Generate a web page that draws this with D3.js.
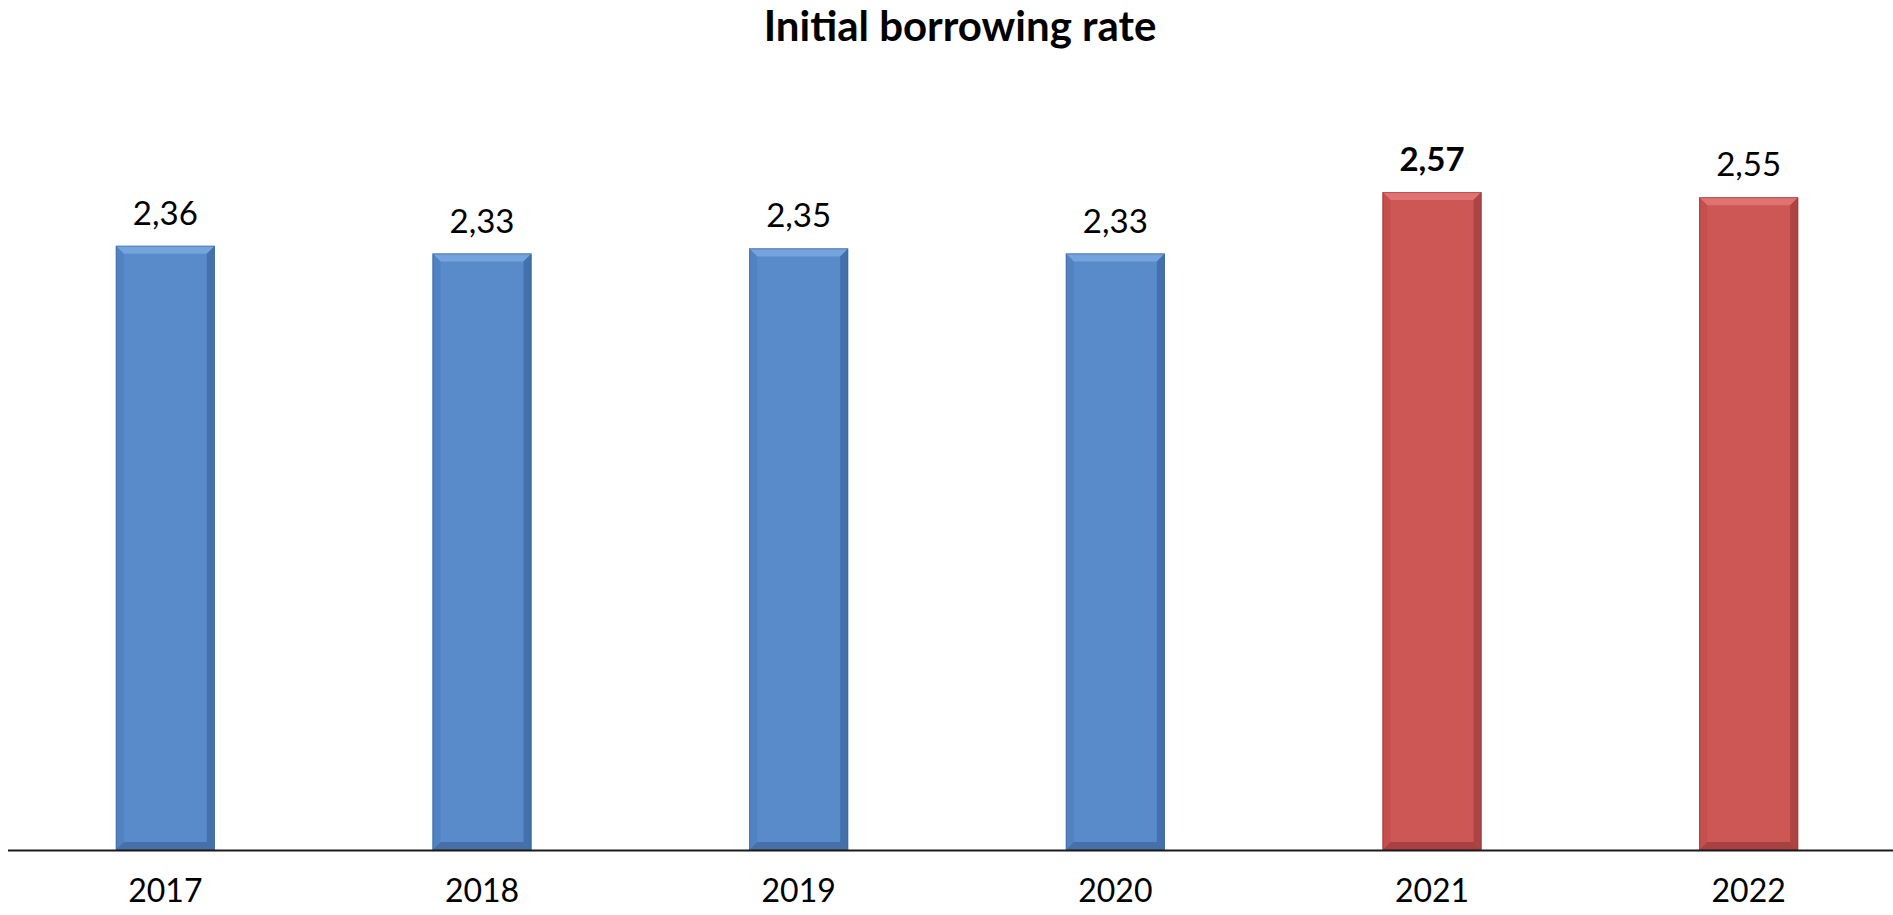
<!DOCTYPE html>
<html><head><meta charset="utf-8">
<script src="https://cdn.jsdelivr.net/npm/d3@7"></script>
<style>body{margin:0;background:#fff;overflow:hidden}svg{display:block}</style>
</head><body>
<svg id="c" width="1893" height="915"></svg>
<script>
const title = "Initial borrowing rate";
const years = ["2017","2018","2019","2020","2021","2022"];
const values = [2.36, 2.33, 2.35, 2.33, 2.57, 2.55];
const labels = ["2,36","2,33","2,35","2,33","2,57","2,55"];
const highlight = [false,false,false,false,true,true];
const boldLabel = [false,false,false,false,true,false];

const svg = d3.select("#c");
const font = "Lato, 'Open Sans', sans-serif";
const base = 850;
const x = d3.scaleBand().domain(years).range([7, 1907]).paddingInner(0.6874).paddingOuter(0.3437);
const y = d3.scaleLinear().domain([0, 3]).range([base, base - 3*256]);

const pal = {
  blue: {main:"#598bcb", top:"#74a3de", left:"#4f7fbd", right:"#3f6aa3", bottom:"#41699e", edge:"#3b5f90"},
  red:  {main:"#cd5755", top:"#e07371", left:"#c04c4a", right:"#a53f3d", bottom:"#9e3d3b", edge:"#8c3634"}
};

const bv = 8;
const g = svg.append("g");
years.forEach((yr, i) => {
  const p = highlight[i] ? pal.red : pal.blue;
  const x0 = x(yr), w = x.bandwidth(), x1 = x0 + w;
  const t = y(values[i]), b = y(0);
  const bar = g.append("g");
  bar.append("rect").attr("x", x0).attr("y", t).attr("width", w).attr("height", b - t).attr("fill", p.main);
  bar.append("polygon").attr("points", `${x0},${t} ${x1},${t} ${x1-bv},${t+bv} ${x0+bv},${t+bv}`).attr("fill", p.top);
  bar.append("polygon").attr("points", `${x0},${t} ${x0+bv},${t+bv} ${x0+bv},${b-bv} ${x0},${b}`).attr("fill", p.left).attr("opacity",0.7);
  bar.append("polygon").attr("points", `${x1},${t} ${x1-bv},${t+bv} ${x1-bv},${b-bv} ${x1},${b}`).attr("fill", p.right).attr("opacity",0.8);
  bar.append("polygon").attr("points", `${x0},${b} ${x0+bv},${b-bv} ${x1-bv},${b-bv} ${x1},${b}`).attr("fill", p.bottom).attr("opacity",0.8);
  bar.append("rect").attr("x", x0+0.5).attr("y", t+0.5).attr("width", w-1).attr("height", b - t - 1)
    .attr("fill","none").attr("stroke", p.edge).attr("stroke-opacity",0.5).attr("stroke-width",1);

  svg.append("text").attr("x", x0 + w/2).attr("y", t - 21)
    .attr("text-anchor","middle").attr("font-family", font).attr("font-size", 33)
    .attr("font-weight", boldLabel[i] ? 700 : 400).attr("fill","#000").text(labels[i]);
});

const axis = d3.axisBottom(x).tickSize(0).tickPadding(0);
const ax = svg.append("g").attr("transform", `translate(0,${base})`).call(axis);
ax.select(".domain").remove();
ax.selectAll("text").attr("y", 52).attr("dy", null).attr("font-family", font).attr("font-size", 32).attr("fill","#000");
svg.append("line").attr("x1", 8).attr("x2", 1893).attr("y1", base+0.5).attr("y2", base+0.5)
  .attr("stroke","#1a1a1a").attr("stroke-width",2);

svg.append("text").attr("x", 960).attr("y", 41).attr("text-anchor","middle")
  .attr("font-family", font).attr("font-weight",700).attr("font-size", 42).attr("fill","#000").text(title);
</script>
</body></html>
